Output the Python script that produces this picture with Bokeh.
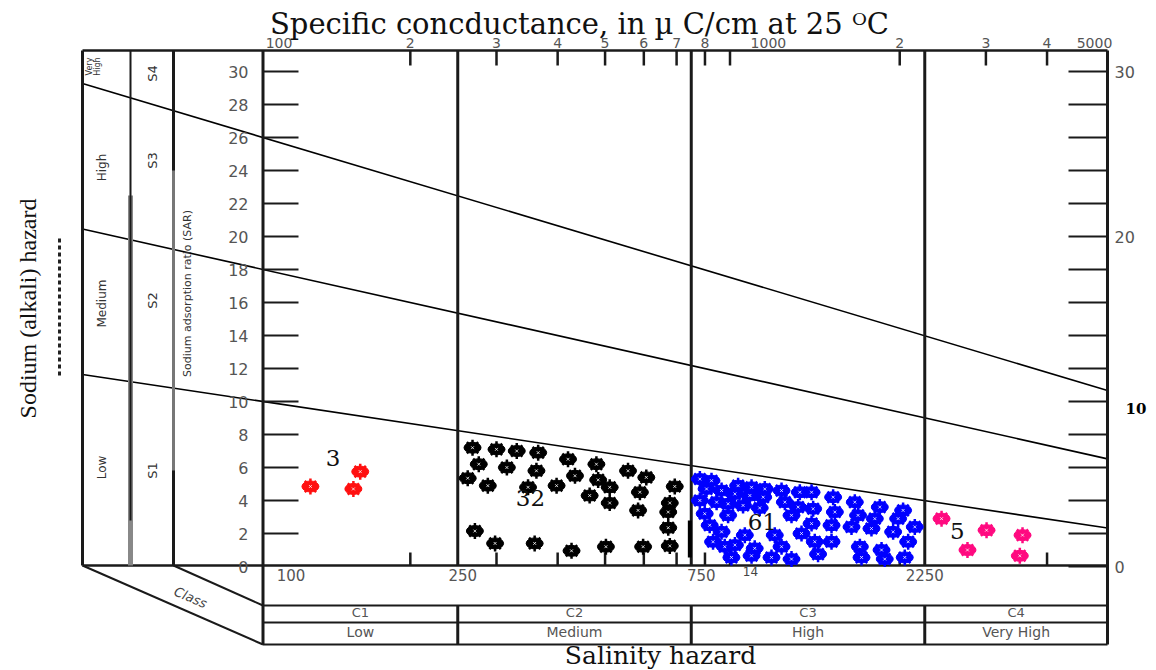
import math
from bokeh.plotting import figure
from bokeh.models import Range1d
from bokeh.core.properties import value
from bokeh.embed import file_html
from bokeh.resources import INLINE

W, H = 1156, 670

# ---------------- data (EC in uS/cm, SAR) ----------------
red_ec = [125, 153, 158]
red_sar = [4.85, 4.7, 5.75]

black_ec = [268, 300, 330, 365, 420, 480, 557, 607,
            276, 315, 362, 434, 484, 511, 589, 694,
            262, 288, 348, 398, 465, 511, 584, 678, 673, 673,
            271, 298, 359, 427, 502, 598, 678]
black_sar = [7.2, 7.1, 7.0, 6.9, 6.5, 6.2, 5.8, 5.4,
             6.2, 6.0, 5.8, 5.5, 5.25, 4.8, 4.5, 4.85,
             5.35, 4.9, 4.8, 4.9, 4.3, 3.85, 3.4, 3.85, 3.3, 2.35,
             2.15, 1.4, 1.4, 0.95, 1.2, 1.2, 1.25]

blue_ec = [781, 825, 935, 996, 1060, 1147, 1250,
           806, 865, 921, 988, 1052,
           781, 845, 892, 957, 1035, 1165, 1240,
           799, 892, 1202,
           818, 865, 965, 1111, 1260,
           831, 878, 921, 1011, 1147,
           906, 996, 1094, 1202,
           1321, 1462, 1619, 1821, 2032,
           1331, 1474, 1644, 1779, 1985, 2147,
           1321, 1451, 1594, 1751, 1939, 2081,
           1341, 1451, 1658, 1836, 1362, 1671, 2048, 1864]
blue_sar = [5.3, 5.2, 4.9, 4.8, 4.7, 4.6, 4.5,
            4.7, 4.6, 4.4, 4.3, 4.2,
            4.0, 3.9, 3.8, 3.7, 3.55, 3.9, 3.6,
            3.2, 3.1, 3.1,
            2.5, 2.1, 1.9, 1.9, 2.0,
            1.5, 1.2, 1.3, 1.1, 1.2,
            0.55, 0.65, 0.55, 0.45,
            4.5, 4.2, 3.9, 3.6, 3.4,
            3.5, 3.3, 3.1, 2.9, 2.9, 2.4,
            2.6, 2.5, 2.4, 2.3, 2.1, 1.5,
            1.5, 1.5, 1.2, 1.0, 0.75, 0.55, 0.55, 0.45]

pink_ec = [2435, 3009, 3564, 2751, 3519]
pink_sar = [2.9, 2.2, 1.9, 1.0, 0.65]

group_text = ["3", "32", "61", "5", "14"]
group_ec = [139, 352, 1048, 2624, 991]
group_sar = [6.55, 4.18, 2.67, 2.18, -0.3]

# sodium-hazard class boundaries (SAR at EC = 100 and EC = 5000)
boundary_ec = [100, 5000]
s1s2_sar = [10.0, 2.45]
s2s3_sar = [18.0, 6.7]
s3s4_sar = [26.0, 10.9]

# salinity classes
class_bounds = [100, 250, 750, 2250]
class_codes = ["C1", "C2", "C3", "C4"]
class_names = ["Low", "Medium", "High", "Very High"]

# axes
top_tick_values = [200, 300, 400, 500, 600, 700, 800, 900, 2000, 3000, 4000]
top_label_values = [100, 200, 300, 400, 500, 600, 700, 800, 1000, 2000, 3000, 4000, 5000]
top_labels = ["100", "2", "3", "4", "5", "6", "7", "8", "1000", "2", "3", "4", "5000"]
bottom_tick_values = [200, 300, 400, 500, 600, 700, 800, 900, 2000, 4000]
bottom_label_values = [100, 250, 750, 2250]
bottom_labels = ["100", "250", "750", "2250"]
sar_ticks = list(range(0, 31, 2))
left_sar_labels = list(range(0, 31, 2))
right_sar_labels = [0, 10, 20, 30]

# ---------------- layout helpers (pixel -> data) ----------------
PX_EC100, PX_DEC = 262.5, 489.4
PX_SAR0, PX_UNIT = 566.0, 16.5


def xd(px):
    return 100 * 10 ** ((px - PX_EC100) / PX_DEC)


def yd(py):
    return (PX_SAR0 - py) / PX_UNIT


p = figure(width=W, height=H, x_axis_type="log",
           x_range=Range1d(xd(0), xd(W)), y_range=Range1d(yd(H), yd(0)),
           x_axis_location=None, y_axis_location=None,
           toolbar_location=None, output_backend="svg", min_border=0,
           outline_line_color=None, background_fill_color="white",
           border_fill_color="white")
p.grid.visible = False

L_PANEL, C2_PANEL, C3_PANEL = xd(82), xd(130), xd(173)
RIGHT = xd(1107)
TOP, BASE = yd(50), yd(565)
ROW1, ROW2, ROW3 = yd(605), yd(622), yd(644)


# hazard lines (straight in log-EC), extended over the side panels
def ext(sars):
    m = (sars[1] - sars[0]) / (math.log10(boundary_ec[1]) - math.log10(boundary_ec[0]))
    f = lambda e: sars[0] + m * (math.log10(e) - math.log10(boundary_ec[0]))
    return [L_PANEL, RIGHT], [f(L_PANEL), f(RIGHT)]


for s in (s1s2_sar, s2s3_sar, s3s4_sar):
    xs, ys = ext(s)
    p.line(xs, ys, line_color="black", line_width=1.6)

# frame lines
K = "#1a1a1a"
p.segment(x0=[L_PANEL, L_PANEL], y0=[TOP, BASE], x1=[RIGHT, RIGHT], y1=[TOP, BASE],
          line_color=K, line_width=2.6)
p.segment(x0=[L_PANEL, C3_PANEL, 100, RIGHT], y0=[TOP, TOP, TOP, TOP],
          x1=[L_PANEL, C3_PANEL, 100, RIGHT], y1=[BASE, BASE, ROW3, ROW3],
          line_color=K, line_width=3)
p.segment(x0=[C2_PANEL], y0=[yd(195)], x1=[C2_PANEL], y1=[BASE], line_color="#888888", line_width=5)
p.segment(x0=[C2_PANEL], y0=[TOP], x1=[C2_PANEL], y1=[yd(520)], line_color=K, line_width=2)
p.segment(x0=[C3_PANEL], y0=[yd(170)], x1=[C3_PANEL], y1=[yd(470)], line_color="#777777", line_width=3)
# class separators
p.segment(x0=class_bounds[1:], y0=[TOP] * 3, x1=class_bounds[1:], y1=[BASE] * 3,
          line_color=K, line_width=3)
p.segment(x0=class_bounds[1:], y0=[ROW1] * 3, x1=class_bounds[1:], y1=[ROW3] * 3,
          line_color=K, line_width=3)
p.segment(x0=[745], y0=[yd(520)], x1=[745], y1=[yd(557)], line_color="black", line_width=4)
# bottom class bands
p.segment(x0=[100, 100, 100], y0=[ROW1, ROW2, ROW3], x1=[RIGHT] * 3, y1=[ROW1, ROW2, ROW3],
          line_color=K, line_width=2)
# perspective lines
p.segment(x0=[L_PANEL, C3_PANEL], y0=[BASE, BASE], x1=[100, 100], y1=[ROW3, ROW1],
          line_color=K, line_width=2)

# tick marks
p.segment(x0=[100] * len(sar_ticks[1:]), y0=sar_ticks[1:], x1=[xd(298)] * len(sar_ticks[1:]),
          y1=sar_ticks[1:], line_color=K, line_width=2)
p.segment(x0=[xd(1068)] * len(sar_ticks), y0=sar_ticks, x1=[RIGHT] * len(sar_ticks),
          y1=sar_ticks, line_color=K, line_width=2)
p.segment(x0=top_tick_values, y0=[TOP] * len(top_tick_values), x1=top_tick_values,
          y1=[yd(65)] * len(top_tick_values), line_color=K, line_width=2.5)
p.segment(x0=bottom_tick_values, y0=[BASE] * len(bottom_tick_values), x1=bottom_tick_values,
          y1=[yd(552)] * len(bottom_tick_values), line_color=K, line_width=2.5)


# points
def blobs(ec, sar, color):
    p.ellipse(ec, sar, width=17, height=11, width_units="screen", height_units="screen",
              fill_color=color, line_color=color)
    p.scatter(ec, sar, marker="asterisk", size=16, line_color=color, line_width=2.5)
    p.scatter(ec, sar, marker="x", size=4, line_color="white", line_width=1, line_alpha=0.8)


blobs(red_ec, red_sar, "#ff1010")
blobs(black_ec, black_sar, "#000000")
blobs(blue_ec, blue_sar, "#0000ff")
blobs(pink_ec, pink_sar, "#ff0a80")

SERIF = value("DejaVu Serif")
SANS = value("DejaVu Sans")
GRAY = "#555555"

p.text(group_ec[:4], group_sar[:4], text=group_text[:4], text_font=SERIF,
       text_font_size="23px", text_color="#111111", text_align="center",
       text_baseline="middle")
p.text(group_ec[4:], group_sar[4:], text=group_text[4:], text_font=SANS,
       text_font_size="12px", text_color="#444444", text_align="center",
       text_baseline="middle")

# axis labels
p.text([xd(248)] * len(left_sar_labels), left_sar_labels, text=[str(v) for v in left_sar_labels],
       text_font=SANS, text_font_size="16px", text_color=GRAY, text_align="right",
       text_baseline="middle")
p.text([xd(1114)] * 3, [0, 20, 30], text=["0", "20", "30"], text_font=SANS,
       text_font_size="16px", text_color=GRAY, text_align="left", text_baseline="middle")
p.text([xd(1125)], [10], text=["10"], y_offset=[7], text_font=SERIF, text_font_style="bold",
       text_font_size="15px", text_color="black", text_align="left", text_baseline="middle")
top_off = [16 if t in ("100", "1000") else 0 for t in top_labels]
p.text(top_label_values, [yd(42)] * len(top_label_values), text=top_labels, x_offset=top_off,
       text_font=SANS, text_font_size="14px", text_color=GRAY, text_align="center",
       text_baseline="middle")
p.text(bottom_label_values, [yd(574)] * 4, text=bottom_labels,
       x_offset=[28, 5, 10, 0], text_font=SANS, text_font_size="15px", text_color=GRAY,
       text_align="center", text_baseline="middle")

# class band labels
edges = class_bounds + [RIGHT]
centers = [math.sqrt(edges[i] * edges[i + 1]) for i in range(4)]
p.text(centers, [yd(612)] * 4, text=class_codes, text_font=SANS, text_font_size="13px",
       text_color=GRAY, text_align="center", text_baseline="middle")
p.text(centers, [yd(631)] * 4, text=class_names, text_font=SANS, text_font_size="14px",
       text_color=GRAY, text_align="center", text_baseline="middle")

# left panel labels
p.text([xd(101)] * 3, [yd(167), yd(303), yd(467)], text=["High", "Medium", "Low"],
       angle=math.pi / 2, text_font=SANS, text_font_size="12px", text_color="#333333",
       text_align="center", text_baseline="middle")
p.text([xd(89), xd(97)], [yd(66), yd(66)], text=["Very", "High"], angle=math.pi / 2,
       text_font=SANS, text_font_size="8px", text_color="#333333", text_align="center",
       text_baseline="middle")
p.text([xd(152)] * 4, [yd(73), yd(160), yd(300), yd(470)], text=["S4", "S3", "S2", "S1"],
       angle=math.pi / 2, text_font=SANS, text_font_size="13px", text_color="#333333",
       text_align="center", text_baseline="middle")
p.text([xd(187)], [yd(293)], text=["Sodium adsorption ratio (SAR)"], angle=math.pi / 2,
       text_font=SANS, text_font_size="11px", text_color="#333333", text_align="center",
       text_baseline="middle")
p.text([xd(190)], [yd(597)], text=["Class"], angle=-0.41, text_font=SANS,
       text_font_style="italic", text_font_size="13px", text_color="#444444",
       text_align="center", text_baseline="middle")

# titles
p.text([xd(579)], [yd(23)], text=["Specific concductance, in \u00b5 C/cm at 25 \u1d3cC"],
       text_font=SERIF, text_font_size="29px", text_color="#111111", text_align="center",
       text_baseline="middle")
p.text([xd(660)], [yd(655)], text=["Salinity hazard"], text_font=SERIF,
       text_font_size="25px", text_color="#111111", text_align="center",
       text_baseline="middle")
p.text([xd(27)], [yd(308)], text=["Sodium (alkali) hazard"], angle=math.pi / 2,
       text_font=value("Liberation Serif"), text_font_size="24px", text_color="#111111",
       text_align="center", text_baseline="middle")
p.segment(x0=[xd(59)], y0=[yd(238)], x1=[xd(59)], y1=[yd(376)], line_color="#222222",
          line_width=3, line_dash="4 3")

open("out.html", "w").write(file_html(p, INLINE))
